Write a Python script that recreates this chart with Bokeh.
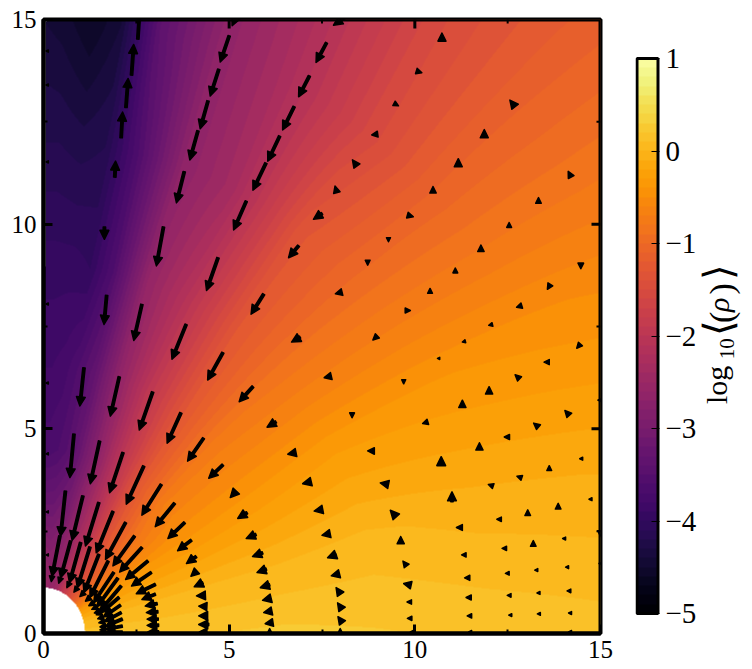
import numpy as np
from bokeh.core.properties import value
from bokeh.embed import file_html
from bokeh.resources import INLINE
from bokeh.layouts import row
from bokeh.models import LinearColorMapper, Range1d, SingleIntervalTicker, FixedTicker
from bokeh.palettes import Inferno256
from bokeh.plotting import figure

# log10<rho> on a polar table (radius across, angle in degrees down)
radius_table = [1.1, 2, 3, 4.5, 6.5, 9, 12, 15, 18, 21.3]
angle_table = [0, 15, 30, 45, 55, 65, 72, 78, 82, 85, 88, 90]
log_rho_0 = [.16, .18, .18, .20, .23, .21, .18, .15, .12, .12]
log_rho_15 = [0, 0, 0, 0, 0, .03, -.05, -.10, -.15, -.15]
log_rho_30 = [-.36, -.36, -.36, -.38, -.36, -.32, -.38, -.46, -.55, -.6]
log_rho_45 = [-1.2, -1.1, -.95, -.72, -.75, -.85, -.95, -1.05, -1.1, -1.15]
log_rho_55 = [-1.6, -1.6, -1.4, -1.3, -1.3, -1.3, -1.35, -1.6, -1.55, -1.5]
log_rho_65 = [-2.0, -2.1, -2.2, -2.1, -2.0, -2.1, -2.35, -2.3, -2.25, -2.2]
log_rho_72 = [-2.4, -2.55, -2.6, -2.75, -2.65, -2.6, -2.7, -2.7, -2.7, -2.7]
log_rho_78 = [-2.55, -2.7, -3.0, -3.25, -3.35, -3.6, -3.65, -3.4, -3.4, -3.4]
log_rho_82 = [-2.6, -2.75, -3.05, -3.5, -3.6, -4.0, -4.2, -4.4, -4.4, -4.4]
log_rho_85 = [-2.5, -2.8, -3.15, -3.6, -3.75, -3.95, -4.25, -4.6, -4.6, -4.6]
log_rho_88 = [-2.5, -2.75, -3.15, -3.65, -3.8, -3.95, -4.2, -4.45, -4.5, -4.5]
log_rho_90 = [-2.5, -2.75, -3.15, -3.65, -3.8, -3.95, -4.2, -4.4, -4.4, -4.4]
hole_radius = 1.12

# flow arrows: (tail x, tail y, tip x, tip y), grouped as they appear in the picture
arrows_rim = [
 (.23,1.40,.21,1.27),(.46,1.36,.41,1.23),(.70,1.24,.63,1.12),(.91,1.12,.82,1.01),(1.09,1.0,.98,.90),
 (1.25,.88,1.13,.79),(1.35,.75,1.22,.68),(1.44,.65,1.30,.59),(1.52,.55,1.37,.50),(1.56,.51,1.42,.46),
 (1.61,.40,1.46,.36),(1.64,.29,1.49,.26),(1.67,.18,1.52,.16),(1.67,.10,1.52,.09),(1.67,.03,1.52,.03)]
arrows_inner = [
 (.44,2.38,.23,1.40),(.73,2.26,.46,1.36),(1.0,2.22,.70,1.24),(1.25,2.11,.91,1.12),(1.49,1.93,1.09,1.0),
 (1.74,1.77,1.25,.88),(1.89,1.49,1.35,.75),(2.0,1.35,1.44,.65),(2.09,1.16,1.52,.55),(2.03,.88,1.56,.51),
 (2.07,.69,1.61,.40),(2.09,.51,1.64,.29),(2.12,.35,1.67,.18),(2.12,.18,1.67,.10),(2.12,.03,1.67,.03)]
arrows_second = [
 (.59,3.48,.46,2.38),(1.06,3.36,.77,2.28),(1.49,3.20,1.13,2.14),(1.87,2.98,1.42,1.97),(2.21,2.71,1.67,1.81),
 (2.45,2.38,1.87,1.65),(2.65,2.10,2.05,1.50),(2.81,1.77,2.21,1.32),(2.90,1.49,2.37,1.16),(3.01,1.20,2.50,.97),
 (3.01,.96,2.65,.83),(3.06,.73,2.74,.67),(3.08,.53,2.77,.51),(3.09,.35,2.79,.35),(3.10,.20,2.79,.20),(3.10,.04,2.81,.04)]
arrows_third = [
 (.82,4.87,.71,3.81),(1.51,4.70,1.26,3.66),(2.14,4.42,1.78,3.44),(2.70,4.09,2.23,3.16),(3.17,3.64,2.65,2.89),
 (3.53,3.18,3.01,2.61),(3.80,2.71,3.35,2.32),(3.98,2.28,3.61,2.02),(4.11,1.88,3.85,1.71),(4.13,1.53,3.97,1.40),
 (4.29,1.24,4.06,1.14),(4.36,.93,4.12,.92),(4.40,.66,4.18,.67),(4.42,.43,4.18,.43),(4.45,.22,4.18,.22),(4.40,.04,4.20,.04)]
arrows_fourth = [
 (1.09,6.49,.98,5.56),(2.04,6.27,1.80,5.31),(2.94,5.90,2.58,4.97),(3.70,5.39,3.33,4.65),(4.31,4.77,3.88,4.21),
 (4.83,4.12,4.45,3.79),(5.19,3.48,5.03,3.32),(5.48,2.95,5.23,2.81),(5.72,2.42,5.46,2.32),(5.90,1.97,5.63,1.88),
 (6.0,1.57,5.75,1.49),(6.09,1.19,5.84,1.12),(6.13,.86,5.90,.81),(6.15,.55,5.93,.51),(6.18,.27,5.97,.24),(6.09,-.04,6.09,.12)]
arrows_fifth = [
 (1.70,8.26,1.63,7.55),(2.65,8.04,2.43,7.16),(3.84,7.55,3.46,6.70),(4.83,6.86,4.42,6.19),(5.64,6.03,5.27,5.66),
 (6.26,5.17,6.02,5.04),(6.80,4.42,6.58,4.38),(7.21,3.71,6.98,3.66),(7.52,3.03,7.29,2.99),(7.72,2.44,7.50,2.40),
 (7.88,1.93,7.65,1.85),(7.97,1.46,7.75,1.41),(8.0,.96,7.88,1.12),(8.04,.59,7.92,.75),(8.05,.26,7.93,.41),(7.99,-.04,7.99,.12)]
arrows_upper_left = [
 (1.64,9.93,1.64,9.63),(1.92,11.15,1.94,11.54),(2.09,12.11,2.13,12.74),(2.22,12.85,2.28,13.56),(2.37,13.64,2.43,14.39),
 (2.54,14.52,2.60,15.35),(3.23,9.93,3.04,8.98),(4.70,9.18,4.39,8.38),(3.79,11.28,3.58,10.52),(4.16,12.28,3.94,11.57),
 (4.43,13.01,4.22,12.33),(4.72,13.78,4.49,13.13),(5.0,14.6,4.76,13.96),(5.25,15.2,5.08,14.85)]
arrows_upper_mid = [
 (7.62,14.43,7.34,13.95),(7.16,13.62,6.87,13.11),(6.75,12.87,6.44,12.30),(6.36,12.15,6.04,11.54),(5.99,11.49,5.64,10.83),
 (5.46,10.56,5.12,9.86),(8.12,15.05,7.81,14.86),(6.87,9.47,6.60,9.18),(5.93,8.29,5.59,7.80),(6.91,7.24,6.68,7.12),
 (7.75,6.29,7.56,6.25),(8.31,5.39,8.31,5.27),(8.04,8.34,7.86,8.30),(8.99,7.27,8.87,7.17),(8.73,9.12,8.73,9.0),
 (9.29,9.67,9.29,9.57),(9.74,7.89,9.88,7.89),(9.70,6.20,9.70,6.10),(10.35,5.17,10.21,5.13),(7.50,10.26,7.27,10.12),
 (10.04,13.74,10.19,13.70),(9.44,12.95,9.56,12.89),(9.0,12.2,8.84,12.18),(8.44,11.42,8.32,11.57),(7.90,10.77,7.85,10.93),
 (9.80,10.22,9.96,10.18)]
arrows_upper_right = [
 (10.73,14.47,10.73,14.67),(12.70,12.87,12.56,13.03),(11.87,12.11,11.87,12.31),(11.17,11.40,11.17,11.60),(10.49,10.76,10.49,10.92),
 (14.21,11.15,14.13,11.29),(13.33,10.51,13.33,10.65),(12.54,9.92,12.54,10.04),(11.78,9.33,11.78,9.49),(11.09,8.81,11.09,8.93),
 (10.41,8.31,10.41,8.43),(14.47,9.05,14.47,8.91),(13.65,8.53,13.57,8.41),(12.88,8.01,12.74,7.97),(12.09,7.55,11.99,7.53),
 (11.36,7.14,11.28,7.12),(10.67,6.72,10.61,6.72),(14.46,7.07,14.36,6.97),(13.62,6.63,13.48,6.63),(12.82,6.22,12.70,6.32),
 (12.0,5.85,12.0,6.03),(11.28,5.52,11.28,5.70),(14.16,5.33,14.04,5.45),(13.33,5.04,13.20,5.14),(12.55,4.80,12.41,4.80),
 (15.05,5.70,14.93,5.70)]
arrows_lower_right = [
 (11.74,4.48,11.74,4.66),(10.71,4.10,10.71,4.32),(14.52,4.27,14.44,4.27),(13.62,3.98,13.62,4.10),(12.88,3.80,12.75,3.84),
 (12.11,3.60,11.98,3.64),(11.0,3.22,11.0,3.46),(14.77,3.28,14.69,3.28),(13.86,3.04,13.86,3.18),(13.04,2.88,13.04,3.02),
 (12.33,2.79,12.21,2.79),(11.28,2.59,11.12,2.59),(15.0,2.51,15.0,2.37),(14.06,2.32,13.98,2.32),(13.19,2.13,13.19,2.27),
 (12.47,2.08,12.35,2.08),(11.38,1.92,11.26,1.92),(15.04,1.71,14.96,1.71),(14.14,1.62,14.06,1.62),(13.31,1.55,13.23,1.55),
 (12.54,1.47,12.44,1.47),(11.48,1.36,11.34,1.36),(14.20,1.04,14.10,1.04),(13.37,.99,13.29,.99),(12.59,.93,12.49,.93),
 (11.52,.88,11.38,.88),(14.22,.5,14.14,.5),(13.38,.48,13.3,.48),(12.61,.45,12.53,.45),(11.53,.43,11.41,.43),
 (11.53,.04,11.45,.04),(14.22,.04,14.14,.04)]
arrows_ring_ten = [
 (8.91,4.46,8.73,4.46),(9.29,3.64,9.07,3.68),(9.50,2.85,9.34,3.01),(9.62,2.19,9.62,2.37),(9.78,1.65,9.68,1.77),
 (9.90,1.18,9.70,1.22),(9.91,.77,9.79,.77),(9.92,.37,9.80,.37),(9.96,.04,9.88,.04)]
arrows_left_edge = [(.13,y,.07,y) for y in (1.92, 2.97, 4.39, 6.12, 8.05, 11.52, 13.4, 14.23)]

major_tick_values = [5, 10]
minor_tick_values = [2.5, 7.5, 12.5]
bar_ticks = [-5, -4, -3, -2, -1, 0, 1]
bar_labels = {-5: "\u22125", -4: "\u22124", -3: "\u22123", -2: "\u22122", -1: "\u22121", 0: "0", 1: "1"}

FONT = "Liberation Serif"
FRAME_W, FRAME_H = 557, 614
SX, SY = FRAME_W / 15, FRAME_H / 15
mapper = LinearColorMapper(palette=Inferno256, low=-5, high=1, nan_color="white")

# --- field: the read table is shaded across the frame, in bands of 0.1 like the filled contours
table = np.array([log_rho_0, log_rho_15, log_rho_30, log_rho_45, log_rho_55, log_rho_65,
                  log_rho_72, log_rho_78, log_rho_82, log_rho_85, log_rho_88, log_rho_90])
rt, at = np.array(radius_table), np.array(angle_table, float)
gx, gy = np.meshgrid((np.arange(FRAME_W) + .5) / SX, (np.arange(FRAME_H) + .5) / SY)
gr = np.hypot(gx, gy)
ga = np.degrees(np.arctan2(gy, gx))
ir = np.clip(np.searchsorted(rt, gr) - 1, 0, len(rt) - 2)
ia = np.clip(np.searchsorted(at, ga) - 1, 0, len(at) - 2)
fr = np.clip((gr - rt[ir]) / (rt[ir + 1] - rt[ir]), 0, 1)
fa = np.clip((ga - at[ia]) / (at[ia + 1] - at[ia]), 0, 1)
shade = (table[ia, ir] * (1 - fr) * (1 - fa) + table[ia, ir + 1] * fr * (1 - fa)
         + table[ia + 1, ir] * (1 - fr) * fa + table[ia + 1, ir + 1] * fr * fa)
shade = np.floor(shade * 10) / 10 + .05
shade[(gr < hole_radius) | (gx < .0045 * gr)] = np.nan


def arrow_outline(x0, y0, x1, y1):
    dx, dy = (x1 - x0) * SX, (y1 - y0) * SY
    length = max(np.hypot(dx, dy), 1e-6)
    ux, uy = dx / length, dy / length
    nx, ny = -uy, ux
    tx, ty = x1 * SX, y1 * SY
    head_len, head_half, shaft_half = 9.0, 4.4, 1.2
    if length <= head_len:
        s = length / head_len
        pts = [(0, 0), (-length, head_half * s), (-length, -head_half * s)]
    else:
        pts = [(0, 0), (-head_len, head_half), (-head_len, shaft_half), (-length, shaft_half),
               (-length, -shaft_half), (-head_len, -shaft_half), (-head_len, -head_half)]
    xs = [(tx + a * ux + b * nx) / SX for a, b in pts]
    ys = [(ty + a * uy + b * ny) / SY for a, b in pts]
    return xs, ys


all_arrows = (arrows_rim + arrows_inner + arrows_second + arrows_third + arrows_fourth + arrows_fifth
              + arrows_upper_left + arrows_upper_mid + arrows_upper_right + arrows_lower_right
              + arrows_ring_ten + arrows_left_edge)
outlines = [arrow_outline(*a) for a in all_arrows]

# --- main panel
p = figure(width=618, height=665, x_range=Range1d(0, 15), y_range=Range1d(0, 15),
           output_backend="svg", toolbar_location=None, min_border_left=43, min_border_right=18,
           min_border_top=19, min_border_bottom=32)
p.grid.visible = False
p.image(image=[shade], x=0, y=0, dw=15, dh=15, color_mapper=mapper)
p.patches([o[0] for o in outlines], [o[1] for o in outlines], fill_color="black", line_color="black",
          line_width=1.5, line_join="round")

# mirrored ticks on the top and right sides
maj, mnr = np.array(major_tick_values, float), np.array(minor_tick_values, float)
p.segment(maj, 15 - 9 / SY, maj, 15, line_color="black", line_width=3)
p.segment(mnr, 15 - 4 / SY, mnr, 15, line_color="black", line_width=2)
p.segment(15 - 9 / SX, maj, 15, maj, line_color="black", line_width=3)
p.segment(15 - 4 / SX, mnr, 15, mnr, line_color="black", line_width=2)
p.quad(left=0, right=15, bottom=0, top=15, fill_color=None, line_color="black", line_width=4)

for ax in (p.xaxis[0], p.yaxis[0]):
    ax.ticker = SingleIntervalTicker(interval=5, num_minor_ticks=2)
    ax.axis_line_width = 4
    ax.axis_line_color = "black"
    ax.major_tick_in, ax.major_tick_out = 9, 0
    ax.minor_tick_in, ax.minor_tick_out = 4, 0
    ax.major_tick_line_width, ax.minor_tick_line_width = 3, 2
    ax.major_label_text_font = FONT
    ax.major_label_text_font_size = "25px"
    ax.major_label_text_color = "black"
    ax.major_label_standoff = 7
p.outline_line_width = 4
p.outline_line_color = "black"
p.frame_width, p.frame_height = FRAME_W, FRAME_H

# --- colour bar panel: same frame height as the main panel, and wide enough to hold the title
BAR_PX_PER_UNIT = 92.5
BAR_W = 21
BAR_FRAME_W = 113
bar_levels = np.arange(-5, 1, .1) + .05
bar = figure(width=130, height=665, x_range=Range1d(-1.5 / BAR_W, (BAR_FRAME_W - 1.5) / BAR_W),
             y_range=Range1d(-5 - 20 / BAR_PX_PER_UNIT, 1 + 39 / BAR_PX_PER_UNIT),
             output_backend="svg", toolbar_location=None, min_border_left=17, min_border_right=0,
             min_border_top=19, min_border_bottom=32, x_axis_location=None, y_axis_location="right")
bar.grid.visible = False
bar.outline_line_color = None
bar.image(image=[bar_levels.reshape(-1, 1)], x=0, y=-5, dw=1, dh=6, color_mapper=mapper)
bar.quad(left=0, right=1, bottom=-5, top=1, fill_color=None, line_color="black", line_width=3)
bax = bar.yaxis[0]
bax.fixed_location = 1.07
bax.ticker = FixedTicker(ticks=bar_ticks)
bax.major_label_overrides = bar_labels
bax.minor_tick_line_color = None
bax.major_tick_in, bax.major_tick_out = 8, 0
bax.major_tick_line_width = 1
bax.axis_line_color = None
bax.major_label_text_font = FONT
bax.major_label_text_font_size = "29px"
bax.major_label_text_color = "black"
bax.major_label_standoff = 6
bar.frame_width, bar.frame_height = BAR_FRAME_W, FRAME_H

# rotated title, built from its parts so that only the rho is italic
title_parts = [("log", 3.8, -2.735, "30px", "normal"), ("10", 4.3, -2.25, "21px", "normal"),
               ("\u27e8", 3.9, -2.0, "40px", "normal"), ("(", 4.0, -1.86, "34px", "normal"),
               ("\u03c1", 3.9, -1.74, "30px", "italic"), (")", 4.0, -1.55, "34px", "normal"),
               ("\u27e9", 3.9, -1.39, "40px", "normal")]
for text, lx, ly, size, style in title_parts:
    bar.text(x=[lx], y=[ly], text=[text], angle=np.pi / 2, text_font=value(FONT), text_font_size=value(size),
             text_font_style=style, text_color="black", text_baseline="alphabetic", text_align="left")

layout = row(p, bar, spacing=0)
open("out.html", "w").write(file_html(layout, INLINE))
